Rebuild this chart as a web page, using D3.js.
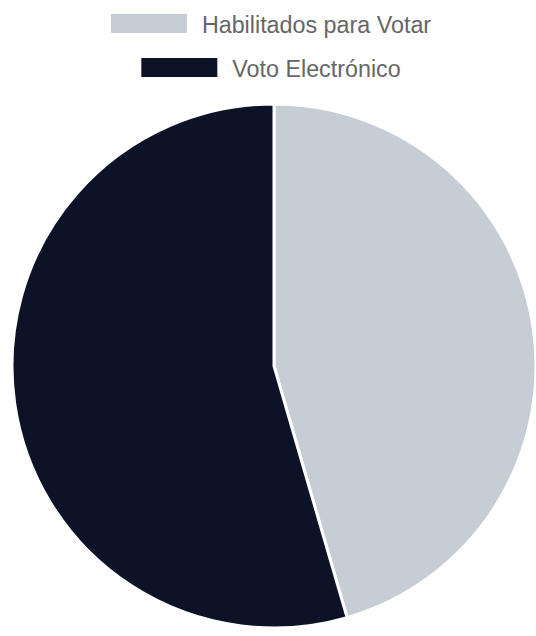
<!DOCTYPE html>
<html>
<head>
<meta charset="utf-8">
<script src="https://cdn.jsdelivr.net/npm/d3@7"></script>
<style>
  body { margin: 0; background: #fff; }
  svg { display: block; }
</style>
</head>
<body>
<svg id="chart"></svg>
<script>
// data
const labels = ["Habilitados para Votar", "Voto Electrónico"]
const values = [45.5, 54.5]
const colors = ["#c7cdd5", "#0d1326"]

const W = 536, H = 636
const svg = d3.select("#chart").attr("width", W).attr("height", H)

// legend, one row per item, centered
const legendFont = "23.3px 'Liberation Sans', Arial, sans-serif"
const boxW = 76, boxH = 19, gap = 15
const rowsY = [14, 58]

const legend = svg.append("g")
labels.forEach((lab, i) => {
  const g = legend.append("g")
  const t = g.append("text")
    .text(lab)
    .style("font", legendFont)
    .attr("fill", "#666")
    .attr("dominant-baseline", "central")
    .attr("y", rowsY[i] + boxH / 2 + 1)
  const tw = t.node().getComputedTextLength()
  const total = boxW + gap + tw
  const x0 = 271 - total / 2
  g.append("rect")
    .attr("x", x0).attr("y", rowsY[i])
    .attr("width", boxW).attr("height", boxH)
    .attr("fill", colors[i])
  t.attr("x", x0 + boxW + gap)
})

// pie
const cx = 274, cy = 366, r = 262
const pie = d3.pie().sort(null).value(d => d)
const arc = d3.arc().innerRadius(0).outerRadius(r)

svg.append("g")
  .attr("transform", "translate(" + cx + "," + cy + ")")
  .selectAll("path")
  .data(pie(values))
  .enter().append("path")
  .attr("d", arc)
  .attr("fill", (d, i) => colors[i])
  .attr("stroke", "#fff")
  .attr("stroke-width", 3)
  .attr("stroke-linejoin", "round")
</script>
</body>
</html>
